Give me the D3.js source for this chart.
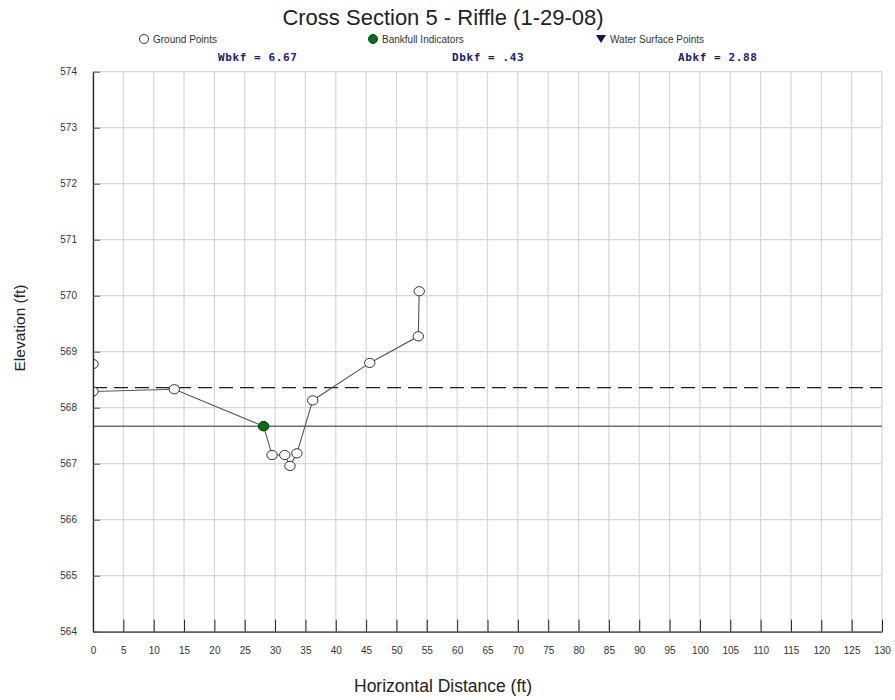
<!DOCTYPE html>
<html><head><meta charset="utf-8">
<script src="https://cdn.jsdelivr.net/npm/d3@7"></script>
<style>body{margin:0;background:#fff}svg{display:block}</style>
</head><body>
<script>
const groundX = [0, 0, 13.4, 28.1, 29.5, 31.6, 32.45, 33.6, 36.2, 45.6, 53.6, 53.75];
const groundY = [568.78, 568.29, 568.33, 567.67, 567.155, 567.155, 566.96, 567.185, 568.13, 568.80, 569.275, 570.08];
const bankfullX = [28.1];
const bankfullY = [567.67];
const waterSurfaceElev = [568.36];
const bankfullElev = [567.67];
const xTicks = d3.range(0, 131, 5);
const yTicks = d3.range(564, 575, 1);
const stats = ["Wbkf = 6.67", "Dbkf = .43", "Abkf = 2.88"];
const legendLabels = ["Ground Points", "Bankfull Indicators", "Water Surface Points"];

const W = 895, H = 700;
const svg = d3.select("body").append("svg").attr("width", W).attr("height", H);
const x = d3.scaleLinear().domain([0, 130]).range([93, 882]);
const y = d3.scaleLinear().domain([564, 574]).range([631.7, 71.7]);

svg.append("defs").append("clipPath").attr("id", "plotclip").append("rect")
  .attr("x", x(0)).attr("y", y(574) - 10).attr("width", x(130) - x(0) + 10).attr("height", y(564) - y(574) + 10);

// grid
svg.append("g").selectAll("line").data(xTicks).join("line")
  .attr("x1", d => x(d)).attr("x2", d => x(d)).attr("y1", y(574)).attr("y2", y(564))
  .attr("stroke", "#d6d6d6").attr("stroke-width", 1.2);
svg.append("g").selectAll("line").data(yTicks).join("line")
  .attr("x1", x(0)).attr("x2", x(130)).attr("y1", d => y(d)).attr("y2", d => y(d))
  .attr("stroke", "#d6d6d6").attr("stroke-width", 1.2);

// reference lines
svg.append("g").selectAll("line").data(waterSurfaceElev).join("line")
  .attr("x1", x(0)).attr("x2", x(130)).attr("y1", d => y(d)).attr("y2", d => y(d))
  .attr("stroke", "#1a1a3a").attr("stroke-width", 1.2).attr("stroke-dasharray", "14,7");
svg.append("g").selectAll("line").data(bankfullElev).join("line")
  .attr("x1", x(0)).attr("x2", x(130)).attr("y1", d => y(d)).attr("y2", d => y(d))
  .attr("stroke", "#6e6e6e").attr("stroke-width", 1.6);

// ground line and points (clipped to plot)
const plot = svg.append("g").attr("clip-path", "url(#plotclip)");
const pts = groundX.map((v, i) => [v, groundY[i]]);
plot.append("path").datum(pts)
  .attr("d", d3.line().x(d => x(d[0])).y(d => y(d[1])))
  .attr("fill", "none").attr("stroke", "#555").attr("stroke-width", 1.1);
plot.append("g").selectAll("ellipse").data(pts).join("ellipse")
  .attr("cx", d => x(d[0])).attr("cy", d => y(d[1])).attr("rx", 5.2).attr("ry", 4.6)
  .attr("fill", "#fff").attr("stroke", "#333").attr("stroke-width", 1);
plot.append("g").selectAll("ellipse").data(bankfullX.map((v, i) => [v, bankfullY[i]])).join("ellipse")
  .attr("cx", d => x(d[0])).attr("cy", d => y(d[1])).attr("rx", 5.2).attr("ry", 4.6)
  .attr("fill", "#0d6b1a").attr("stroke", "#0a4d12").attr("stroke-width", 1);

// axes
const xAxis = d3.axisBottom(x).tickValues(xTicks).tickSizeInner(-12).tickSizeOuter(0).tickPadding(15);
const gx = svg.append("g").attr("transform", `translate(0,${y(564)})`).call(xAxis);
gx.select(".domain").attr("stroke", "#333").attr("stroke-width", 1.3);
gx.selectAll(".tick line").attr("stroke", "#222");
gx.selectAll("text").attr("font-family", "Arial, 'Liberation Sans', sans-serif").attr("font-size", 10).attr("fill", "#333");

const yAxis = d3.axisLeft(y).tickValues(yTicks).tickFormat(d3.format("d")).tickSizeInner(-7).tickSizeOuter(0).tickPadding(16);
const gy = svg.append("g").attr("transform", `translate(${x(0)},0)`).call(yAxis);
gy.select(".domain").attr("stroke", "#222").attr("stroke-width", 1.3);
gy.selectAll(".tick line").attr("stroke", "#555");
gy.selectAll("text").attr("font-family", "Arial, 'Liberation Sans', sans-serif").attr("font-size", 10).attr("fill", "#333");

// title
svg.append("text").attr("x", 443).attr("y", 25).attr("text-anchor", "middle")
  .attr("font-family", "Arial, 'Liberation Sans', sans-serif").attr("font-size", 22).attr("fill", "#222")
  .text("Cross Section 5 - Riffle (1-29-08)");

// legend
const lg = svg.append("g").attr("font-family", "Arial, 'Liberation Sans', sans-serif").attr("font-size", 10).attr("fill", "#333");
const lx = [144, 373, 601];
lg.append("circle").attr("cx", lx[0]).attr("cy", 39).attr("r", 4.5).attr("fill", "#fff").attr("stroke", "#333");
lg.append("circle").attr("cx", lx[1]).attr("cy", 39).attr("r", 4.5).attr("fill", "#0d6b1a").attr("stroke", "#0a4d12");
lg.append("path").attr("d", `M${lx[2]-5},35 L${lx[2]+5},35 L${lx[2]},43 Z`).attr("fill", "#141450");
legendLabels.forEach((t, i) => {
  lg.append("text").attr("x", lx[i] + 9).attr("y", 42.5).text(t);
});

// stats
const sx = [218, 452, 678];
stats.forEach((t, i) => {
  svg.append("text").attr("x", sx[i]).attr("y", 61)
    .attr("font-family", "'DejaVu Sans Mono', monospace").attr("font-weight", "bold")
    .attr("font-size", 11).attr("fill", "#1c1c70").attr("letter-spacing", 0.6).text(t);
});

// axis titles
svg.append("text").attr("x", 443).attr("y", 692).attr("text-anchor", "middle")
  .attr("font-family", "Arial, 'Liberation Sans', sans-serif").attr("font-size", 17.5).attr("fill", "#222")
  .text("Horizontal Distance (ft)");
svg.append("text").attr("transform", "translate(25,328) rotate(-90)").attr("text-anchor", "middle")
  .attr("font-family", "Arial, 'Liberation Sans', sans-serif").attr("font-size", 15.5).attr("fill", "#222")
  .text("Elevation (ft)");
</script>
</body></html>
